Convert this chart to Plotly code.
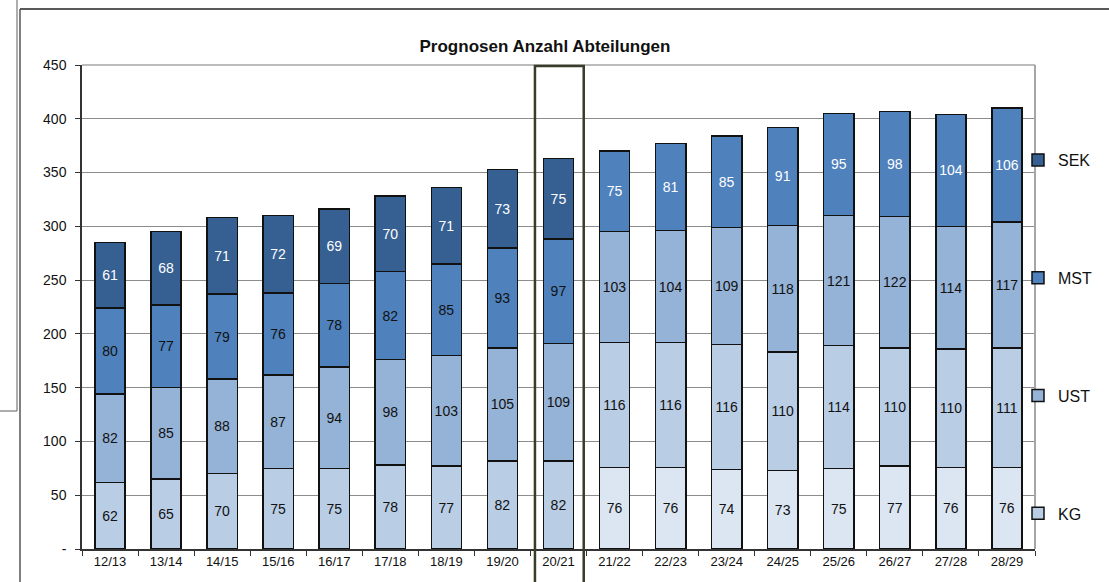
import plotly.graph_objects as go

categories = ["12/13", "13/14", "14/15", "15/16", "16/17", "17/18", "18/19", "19/20", "20/21",
              "21/22", "22/23", "23/24", "24/25", "25/26", "26/27", "27/28", "28/29"]
kg = [62, 65, 70, 75, 75, 78, 77, 82, 82, 76, 76, 74, 73, 75, 77, 76, 76]
ust = [82, 85, 88, 87, 94, 98, 103, 105, 109, 116, 116, 116, 110, 114, 110, 110, 111]
mst = [80, 77, 79, 76, 78, 82, 85, 93, 97, 103, 104, 109, 118, 121, 122, 114, 117]
sek = [61, 68, 71, 72, 69, 70, 71, 73, 75, 75, 81, 85, 91, 95, 98, 104, 106]
y_tick_vals = [0, 50, 100, 150, 200, 250, 300, 350, 400, 450]
y_tick_text = ["-", "50", "100", "150", "200", "250", "300", "350", "400", "450"]
n_hist = 9  # 12/13 .. 20/21 actual, rest forecast
highlight = "20/21"

series = [
    ("KG", kg, "#B9CDE5", "#DCE6F2", "#111111", "#111111", 4),
    ("UST", ust, "#95B3D7", "#B9CDE5", "#111111", "#111111", 3),
    ("MST", mst, "#4F81BD", "#95B3D7", "#111111", "#111111", 2),
    ("SEK", sek, "#366092", "#4F81BD", "#FFFFFF", "#FFFFFF", 1),
]

FONT = "Liberation Sans, Arial, sans-serif"
fig = go.Figure()
for name, vals, c_hist, c_fc, t_hist, t_fc, rank in series:
    n = len(vals)
    colors = [c_hist if i < n_hist else c_fc for i in range(n)]
    tcolors = [t_hist if i < n_hist else t_fc for i in range(n)]
    fig.add_trace(go.Bar(
        name=name, x=categories, y=vals, legendgroup=name, legendrank=rank,
        marker=dict(color=colors, line=dict(color="#111111", width=1.5)),
        text=[str(v) for v in vals], textposition="inside",
        insidetextanchor="middle", textangle=0, constraintext="none",
        textfont=dict(family=FONT, size=14, color=tcolors),
        hoverinfo="x+y+name",
    ))

hi = categories.index(highlight)
W, H = 1109, 582
L, R, T, B = 82, 1035, 65, 549
pw, ph = R - L, B - T
px = lambda x: (x - L) / pw
py = lambda y: (B - y) / ph

shapes = [
    # plot top and right border
    dict(type="line", xref="paper", yref="paper", x0=0, x1=1, y0=1, y1=1,
         line=dict(color="#A6A6A6", width=1.5)),
    dict(type="line", xref="paper", yref="paper", x0=1, x1=1, y0=0, y1=1,
         line=dict(color="#A6A6A6", width=2)),
    # outer frame
    dict(type="line", xref="paper", yref="paper", x0=px(20), x1=px(1112), y0=py(9), y1=py(9),
         line=dict(color="#222222", width=1.5)),
    dict(type="line", xref="paper", yref="paper", x0=px(20), x1=px(20), y0=py(9), y1=py(590),
         line=dict(color="#555555", width=1.5)),
    dict(type="line", xref="paper", yref="paper", x0=px(17), x1=px(17), y0=py(-5), y1=py(411),
         line=dict(color="#777777", width=1.2)),
    dict(type="line", xref="paper", yref="paper", x0=px(-5), x1=px(17), y0=py(411), y1=py(411),
         line=dict(color="#777777", width=1.2)),
    # highlight rectangle around current year
    dict(type="rect", xref="x", yref="paper", x0=hi - 0.42, x1=hi + 0.45,
         y0=py(600), y1=py(66), line=dict(color="#3B3B2A", width=2.5),
         fillcolor="rgba(0,0,0,0)"),
]

fig.update_layout(
    width=W, height=H,
    margin=dict(l=L, r=W - R, t=T, b=H - B, pad=0),
    barmode="stack", bargap=0.46,
    plot_bgcolor="white", paper_bgcolor="white",
    font=dict(family=FONT, size=13, color="#111111"),
    title=dict(text="<b>Prognosen Anzahl Abteilungen</b>", x=545 / W, xanchor="center",
               y=1 - 46 / H, yanchor="middle", font=dict(family=FONT, size=17, color="#111111")),
    shapes=shapes,
    showlegend=True,
    legend=dict(x=px(1018), xanchor="left", y=py(143), yanchor="top",
                traceorder="grouped", tracegroupgap=94,
                font=dict(family=FONT, size=16, color="#111111"),
                bgcolor="rgba(0,0,0,0)", itemwidth=30),
)
fig.update_xaxes(
    type="category", showline=True, linecolor="#333333", linewidth=1.5,
    ticks="outside", tickson="boundaries", ticklen=5, tickcolor="#333333",
    showgrid=False, tickfont=dict(family=FONT, size=13, color="#111111"),
    range=[-0.5, len(categories) - 0.5],
)
fig.update_yaxes(
    range=[0, 450], tickvals=y_tick_vals, ticktext=y_tick_text,
    showline=True, linecolor="#333333", linewidth=1.5,
    ticks="outside", ticklen=5, tickcolor="#333333",
    showgrid=True, gridcolor="#8C8C8C", gridwidth=1, zeroline=False,
    tickfont=dict(family=FONT, size=14, color="#111111"), ticklabelstandoff=6,
)
fig.write_html("out.html", config={"displayModeBar": False},
               post_script="document.body.style.margin='0';document.body.style.overflow='hidden';")
